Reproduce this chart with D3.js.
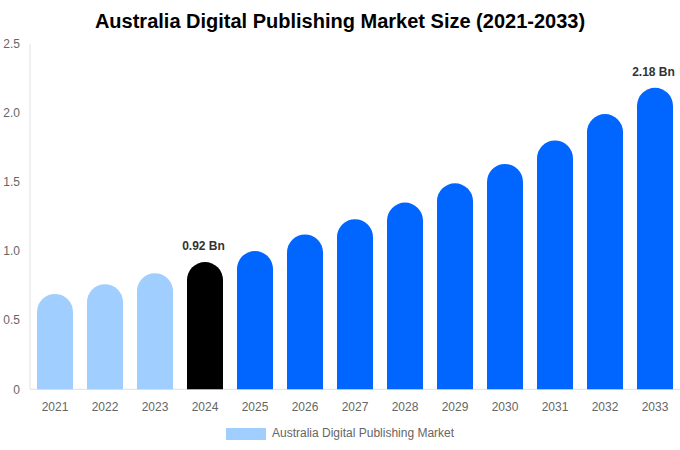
<!DOCTYPE html>
<html><head><meta charset="utf-8">
<script src="https://cdn.jsdelivr.net/npm/d3@7/dist/d3.min.js"></script>
<style>body{margin:0;background:#fff;font-family:"Liberation Sans",Arial,sans-serif;}</style>
</head><body><svg id="c" width="680" height="450"></svg>
<script>
const years = ["2021","2022","2023","2024","2025","2026","2027","2028","2029","2030","2031","2032","2033"];
const values = [0.69,0.76,0.84,0.92,1.00,1.12,1.23,1.35,1.49,1.63,1.80,1.99,2.18];
const yTicks = [0,0.5,1.0,1.5,2.0,2.5];
const labeled = {"2024":"0.92 Bn","2033":"2.18 Bn"};
const title = "Australia Digital Publishing Market Size (2021-2033)";
const legendLabel = "Australia Digital Publishing Market";

const svg = d3.select("#c");
const m = {l:30, r:680, t:43.6, b:389.3};
const x = d3.scaleBand().domain(years).range([m.l, m.r]).paddingInner(0.28).paddingOuter(0.14);
const y = d3.scaleLinear().domain([0,2.5]).range([m.b, m.t]);

function color(yr){ const v=+yr; return v<2024?"#a0cfff":(v===2024?"#000000":"#0066ff"); }

svg.append("text").attr("x",340).attr("y",28).attr("text-anchor","middle")
  .attr("font-size",20).attr("font-weight","bold").attr("fill","#000").text(title);

// axes lines
svg.append("line").attr("x1",m.l).attr("x2",m.l).attr("y1",m.t).attr("y2",m.b).attr("stroke","#e0e0e0");
svg.append("line").attr("x1",m.l).attr("x2",m.r).attr("y1",m.b).attr("y2",m.b).attr("stroke","#e0e0e0");

svg.selectAll(".yt").data(yTicks).enter().append("text")
  .attr("x",20).attr("y",d=>y(d)).attr("dy","0.35em").attr("text-anchor","end")
  .attr("font-size",12).attr("fill","#666").text(d=>d===0?"0":d.toFixed(1));

svg.selectAll(".xt").data(years).enter().append("text")
  .attr("x",d=>x(d)+x.bandwidth()/2).attr("y",411).attr("text-anchor","middle")
  .attr("font-size",12).attr("fill","#666").text(d=>d);

const bw = x.bandwidth(), r = bw/2;
svg.selectAll(".bar").data(years).enter().append("path")
  .attr("fill",d=>color(d))
  .attr("d",(d,i)=>{
    const x0=x(d), yt=y(values[i]), yb=y(0);
    return `M${x0},${yb} L${x0},${yt+r} A${r},${r} 0 0 1 ${x0+bw},${yt+r} L${x0+bw},${yb} Z`;
  });

svg.selectAll(".lbl").data(years.filter(d=>labeled[d])).enter().append("text")
  .attr("x",d=>x(d)+bw/2-1.5).attr("y",d=>y(values[years.indexOf(d)])-12)
  .attr("text-anchor","middle").attr("font-size",12).attr("font-weight","bold").attr("fill","#333")
  .text(d=>labeled[d]);

svg.append("rect").attr("x",226).attr("y",428).attr("width",40).attr("height",12).attr("fill","#a0cfff");
svg.append("text").attr("x",272).attr("y",437).attr("font-size",12).attr("fill","#666").text(legendLabel);
</script></body></html>
